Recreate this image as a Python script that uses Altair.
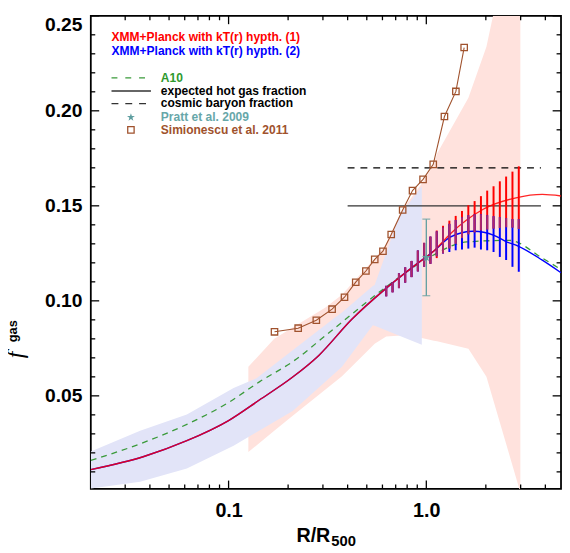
import altair as alt
import pandas as pd

# ---------------- data ----------------
# XMM+Planck, kT(r) hypothesis (1) and (2)
r_hyp1 = [0.0201, 0.0373, 0.0615, 0.1, 0.143, 0.211, 0.286, 0.42, 0.615, 0.902, 1.092, 1.32, 1.94, 2.84, 3.86, 4.8]
f_hyp1 = [0.0112, 0.0181, 0.0264, 0.037, 0.0478, 0.0599, 0.0713, 0.0903, 0.1059, 0.1197, 0.1262, 0.1352, 0.1482, 0.1542, 0.156, 0.1552]
r_hyp2 = [0.0201, 0.0373, 0.0615, 0.1, 0.143, 0.211, 0.286, 0.42, 0.615, 0.902, 1.092, 1.32, 1.73, 2.2, 2.53, 2.93, 3.86, 4.8]
f_hyp2 = [0.0112, 0.0181, 0.0264, 0.037, 0.0478, 0.0599, 0.0713, 0.0903, 0.1059, 0.1197, 0.1262, 0.1335, 0.1366, 0.1345, 0.1312, 0.1287, 0.1214, 0.1148]

# A10
r_a10 = [0.0201, 0.0373, 0.0615, 0.1, 0.1437, 0.211, 0.309, 0.471, 0.615, 1.01, 1.6, 2.63, 3.86, 4.8]
f_a10 = [0.016, 0.0255, 0.035, 0.0465, 0.0575, 0.068, 0.0817, 0.0972, 0.1067, 0.1222, 0.131, 0.1318, 0.1225, 0.1165]

# error bars of the two hypotheses
r_bar = [0.627, 0.675, 0.727, 0.782, 0.842, 0.906, 0.975, 1.049, 1.129, 1.215, 1.308,
         1.408, 1.515, 1.631, 1.755, 1.889, 2.032, 2.188, 2.354, 2.533, 2.727, 2.935]
h1_lo = [0.1024, 0.1045, 0.1067, 0.1096, 0.1125, 0.1155, 0.1180, 0.1195, 0.1225, 0.1250, 0.1275,
         0.1300, 0.1330, 0.1350, 0.1360, 0.1370, 0.1375, 0.1380, 0.1383, 0.1387, 0.1385, 0.1378]
h1_hi = [0.1079, 0.1096, 0.1145, 0.1176, 0.1210, 0.1265, 0.1305, 0.1338, 0.1370, 0.1395, 0.1422,
         0.1447, 0.1473, 0.1503, 0.1525, 0.1551, 0.1580, 0.1603, 0.1629, 0.1654, 0.1680, 0.1708]
h2_lo = [0.1024, 0.1045, 0.1067, 0.1096, 0.1125, 0.1155, 0.1180, 0.1195, 0.1235, 0.1249, 0.1257,
         0.1266, 0.1270, 0.1275, 0.1280, 0.1270, 0.1266, 0.1257, 0.1231, 0.1215, 0.1179, 0.1153]
h2_hi = [0.1079, 0.1096, 0.1145, 0.1176, 0.1210, 0.1265, 0.1305, 0.1338, 0.1365, 0.1385, 0.1405,
         0.1425, 0.1440, 0.1450, 0.1455, 0.1455, 0.1450, 0.1445, 0.1440, 0.1435, 0.1430, 0.1430]

# shaded bands
r_pink = [0.1259, 0.1702, 0.211, 0.309, 0.3745, 0.495, 0.548, 0.627, 0.7455, 0.949, 1.092, 1.134, 1.633, 2.014, 2.175, 2.955, 2.99]
pink_lo = [0.0204, 0.0316, 0.0395, 0.0534, 0.0603, 0.0728, 0.0774, 0.0813, 0.0817, 0.0805, 0.0790, 0.0788, 0.0748, 0.0601, 0.0482, 0.001, 0.001]
pink_hi = [0.0653, 0.0800, 0.0860, 0.0965, 0.1032, 0.1173, 0.1221, 0.1300, 0.1470, 0.1617, 0.1717, 0.1775, 0.2069, 0.2337, 0.25, 0.25, 0.25]

r_lav = [0.0201, 0.0357, 0.0615, 0.106, 0.1384, 0.211, 0.3467, 0.3745, 0.536, 0.548, 0.731, 0.949]
lav_lo = [0.0013, 0.0048, 0.0118, 0.0238, 0.0308, 0.0420, 0.0622, 0.0653, 0.0872, 0.0869, 0.0816, 0.0769]
lav_hi = [0.0207, 0.0316, 0.0402, 0.0541, 0.0592, 0.0740, 0.0914, 0.0938, 0.1078, 0.1084, 0.1447, 0.1603]

# Simionescu et al. 2011
r_sim = [0.1707, 0.2249, 0.2778, 0.3338, 0.3857, 0.4396, 0.4948, 0.5484, 0.6035, 0.6645,
         0.7592, 0.8516, 0.9628, 1.084, 1.235, 1.411, 1.554]
f_sim = [0.0837, 0.0856, 0.0898, 0.0956, 0.1019, 0.1098, 0.1157, 0.1218, 0.1261, 0.1349,
         0.1478, 0.1580, 0.1639, 0.1718, 0.1970, 0.2102, 0.2333]

# Pratt et al. 2009
r_pratt = [1.0]
f_pratt = [0.1228]
f_pratt_lo = [0.1027]
f_pratt_hi = [0.143]

# horizontal reference levels
f_hot = 0.15
f_cosmic = 0.17
r_ref = [0.4, 3.8]

x_tick_labels = [0.1, 1.0]
x_minor = [0.03, 0.04, 0.05, 0.06, 0.07, 0.08, 0.09, 0.2, 0.3, 0.4, 0.5, 0.6, 0.7, 0.8, 0.9, 2, 3, 4]
y_tick_labels = [0.05, 0.10, 0.15, 0.20, 0.25]
y_minor = [0.01, 0.02, 0.03, 0.04, 0.06, 0.07, 0.08, 0.09, 0.11, 0.12, 0.13, 0.14,
           0.16, 0.17, 0.18, 0.19, 0.21, 0.22, 0.23, 0.24]

legend_labels = ["XMM+Planck with kT(r) hypth. (1)", "XMM+Planck with kT(r) hypth. (2)", "A10",
                 "expected hot gas fraction", "cosmic baryon fraction",
                 "Pratt et al. 2009", "Simionescu et al. 2011"]

# ---------------- styling ----------------
W, H = 477, 480
FONT = "Liberation Sans"
PINK = "#FFE2DD"
LAV = "#E2E4F8"
RED = "#FF0000"
BLUE = "#0000FF"
PURPLE = "#B02868"
GREEN = "#3A9A3A"
TEAL = "#5F9EA0"
TEAL_TXT = "#67A7A9"
BROWN = "#A0522D"
DARK = "#333333"
STAR = ("M0,-1L0.2245,-0.309L0.951,-0.309L0.363,0.118L0.588,0.809L0,0.382"
        "L-0.588,0.809L-0.363,0.118L-0.951,-0.309L-0.2245,-0.309Z")

xs = alt.Scale(type="log", domain=[0.0201, 4.8], nice=False)
ys = alt.Scale(domain=[0.001, 0.25], nice=False, zero=False)

x_axis = alt.Axis(values=x_tick_labels, format=".1f", title=None, grid=False, ticks=False,
                  tickSize=0, domain=False, labelFont=FONT, labelFontSize=20,
                  labelFontWeight="bold", labelColor="black", labelPadding=12)
y_axis = alt.Axis(values=y_tick_labels, format=".2f", title=None, grid=False, ticks=False,
                  tickSize=0, domain=False, labelFont=FONT, labelFontSize=19.5,
                  labelFontWeight="bold", labelColor="black", labelPadding=9,
                  labelFlush=True)


def X(f):
    return alt.X(f, type="quantitative", scale=xs, axis=x_axis)


def Y(f):
    return alt.Y(f, type="quantitative", scale=ys, axis=y_axis)


pink_df = pd.DataFrame({"r": r_pink, "lo": pink_lo, "hi": pink_hi})
lav_df = pd.DataFrame({"r": r_lav, "lo": lav_lo, "hi": lav_hi})
h1_df = pd.DataFrame({"r": r_hyp1, "f": f_hyp1})
h2_df = pd.DataFrame({"r": r_hyp2, "f": f_hyp2})
a10_df = pd.DataFrame({"r": r_a10, "f": f_a10})
bar_df = pd.DataFrame({"r": r_bar, "lo1": h1_lo, "hi1": h1_hi, "lo2": h2_lo, "hi2": h2_hi})
bar_df["olo"] = bar_df[["lo1", "lo2"]].max(axis=1)
bar_df["ohi"] = bar_df[["hi1", "hi2"]].min(axis=1)
sim_df = pd.DataFrame({"r": r_sim, "f": f_sim})
pratt_df = pd.DataFrame({"r": r_pratt, "f": f_pratt, "lo": f_pratt_lo, "hi": f_pratt_hi})
ref_df = pd.DataFrame({"r0": [r_ref[0]] * 2, "r1": [r_ref[1]] * 2, "f": [f_hot, f_cosmic],
                       "kind": ["hot", "cosmic"]})

pink = alt.Chart(pink_df).mark_area(color=PINK, clip=True).encode(
    x=X("r"), y=Y("lo"), y2="hi")
lav = alt.Chart(lav_df).mark_area(color=LAV, clip=True).encode(x=X("r"), y=Y("lo"), y2="hi")

hot = alt.Chart(ref_df).transform_filter("datum.kind == 'hot'").mark_rule(
    color=DARK, strokeWidth=1.4).encode(x=X("r0"), x2="r1", y=Y("f"))
cosmic = alt.Chart(ref_df).transform_filter("datum.kind == 'cosmic'").mark_rule(
    color="black", strokeWidth=1.3, strokeDash=[7, 6]).encode(x=X("r0"), x2="r1", y=Y("f"))

a10 = alt.Chart(a10_df).mark_line(color=GREEN, strokeWidth=1.3, strokeDash=[6, 5],
                                  interpolate="monotone", clip=True).encode(x=X("r"), y=Y("f"))
line2 = alt.Chart(h2_df).mark_line(color=BLUE, strokeWidth=1.4, interpolate="monotone",
                                   clip=True).encode(x=X("r"), y=Y("f"))
line1 = alt.Chart(h1_df).mark_line(color=RED, strokeWidth=1.4, opacity=0.85,
                                   interpolate="monotone", clip=True).encode(x=X("r"), y=Y("f"))

bars1 = alt.Chart(bar_df).mark_rule(color=RED, strokeWidth=2).encode(x=X("r"), y=Y("lo1"), y2="hi1")
bars2 = alt.Chart(bar_df).mark_rule(color=BLUE, strokeWidth=2).encode(x=X("r"), y=Y("lo2"), y2="hi2")
bars12 = alt.Chart(bar_df).mark_rule(color=PURPLE, strokeWidth=2).encode(x=X("r"), y=Y("olo"), y2="ohi")

sim_line = alt.Chart(sim_df).mark_line(color=BROWN, strokeWidth=1.1).encode(x=X("r"), y=Y("f"))
sim_pts = alt.Chart(sim_df).mark_point(shape="square", filled=False, color=BROWN, size=42,
                                       strokeWidth=1.3, opacity=1).encode(x=X("r"), y=Y("f"))

pratt_bar = alt.Chart(pratt_df).mark_rule(color=TEAL, strokeWidth=1.3).encode(
    x=X("r"), y=Y("lo"), y2="hi")
pratt_cap_lo = alt.Chart(pratt_df).mark_tick(color=TEAL, orient="horizontal", size=8,
                                             thickness=1.3).encode(x=X("r"), y=Y("lo"))
pratt_cap_hi = alt.Chart(pratt_df).mark_tick(color=TEAL, orient="horizontal", size=8,
                                             thickness=1.3).encode(x=X("r"), y=Y("hi"))
pratt_pt = alt.Chart(pratt_df).mark_point(shape=STAR, filled=True, color=TEAL, size=90,
                                          opacity=1).encode(x=X("r"), y=Y("f"))

# inward ticks on all four sides
MAJ, MIN = 8.5, 4.5
xmaj_df = pd.DataFrame({"v": x_tick_labels})
xmin_df = pd.DataFrame({"v": x_minor})
ymaj_df = pd.DataFrame({"v": y_tick_labels})
ymin_df = pd.DataFrame({"v": y_minor})
tick_layers = []
for df, L in [(xmaj_df, MAJ), (xmin_df, MIN)]:
    tick_layers.append(alt.Chart(df).mark_rule(color="black", strokeWidth=1.3).encode(
        x=X("v"), y=alt.value(H), y2=alt.value(H - L)))
    tick_layers.append(alt.Chart(df).mark_rule(color="black", strokeWidth=1.3).encode(
        x=X("v"), y=alt.value(0), y2=alt.value(L)))
for df, L in [(ymaj_df, MAJ), (ymin_df, MIN)]:
    tick_layers.append(alt.Chart(df).mark_rule(color="black", strokeWidth=1.3).encode(
        y=Y("v"), x=alt.value(0), x2=alt.value(L)))
    tick_layers.append(alt.Chart(df).mark_rule(color="black", strokeWidth=1.3).encode(
        y=Y("v"), x=alt.value(W), x2=alt.value(W - L)))


def label(text, x, y, color, size=12.2, weight="bold", font=FONT, align="left",
          angle=0, style="normal", baseline="middle"):
    return alt.Chart(pd.DataFrame({"t": [text]})).mark_text(
        align=align, baseline=baseline, font=font, fontSize=size, fontWeight=weight,
        fontStyle=style, color=color, angle=angle).encode(
        text="t:N", x=alt.value(x), y=alt.value(y))


one = pd.DataFrame({"k": [0]})
leg = [
    label(legend_labels[0], 21, 21.5, RED),
    label(legend_labels[1], 21, 36, BLUE),
    alt.Chart(one).mark_rule(color=GREEN, strokeWidth=1.3, strokeDash=[6, 8]).encode(
        x=alt.value(21), x2=alt.value(61), y=alt.value(63)),
    label(legend_labels[2], 71, 63, "#2E9A2E"),
    alt.Chart(one).mark_rule(color=DARK, strokeWidth=1.4).encode(
        x=alt.value(21), x2=alt.value(61), y=alt.value(76.3)),
    label(legend_labels[3], 71, 76.3, "black"),
    alt.Chart(one).mark_rule(color=DARK, strokeWidth=1.3, strokeDash=[7, 7]).encode(
        x=alt.value(21), x2=alt.value(61), y=alt.value(89)),
    label(legend_labels[4], 71, 89, "black"),
    alt.Chart(one).mark_point(shape=STAR, filled=True, color=TEAL, size=70, opacity=1).encode(
        x=alt.value(40.7), y=alt.value(103)),
    label(legend_labels[5], 71, 103, TEAL_TXT),
    alt.Chart(one).mark_point(shape="square", filled=False, color=BROWN, size=42,
                              strokeWidth=1.3, opacity=1).encode(
        x=alt.value(40.7), y=alt.value(115.7)),
    label(legend_labels[6], 71, 115.7, BROWN),
]

titles = [
    label("R/R", 243, 534, "black", size=20, align="right", baseline="alphabetic"),
    label("500", 244, 538, "black", size=15, align="left", baseline="alphabetic"),
    label("f", -76, 344, "black", size=24, weight="normal", font="Liberation Serif",
          align="center", angle=270, style="italic"),
    label("gas", -78.5, 320, "black", size=13, align="center", angle=270),
]

chart = alt.layer(
    pink, lav, hot, cosmic, a10, line2, line1, bars1, bars2, bars12,
    sim_line, sim_pts, pratt_bar, pratt_cap_lo, pratt_cap_hi, pratt_pt,
    *tick_layers, *leg, *titles
).properties(
    width=W, height=H,
    padding={"left": 84, "top": 4, "right": 1, "bottom": 58},
    autosize=alt.AutoSizeParams(type="none"),
    background="white",
).configure_view(stroke="black", strokeWidth=1.8)

chart.save("out.html", embed_options={"renderer": "svg", "actions": False})
